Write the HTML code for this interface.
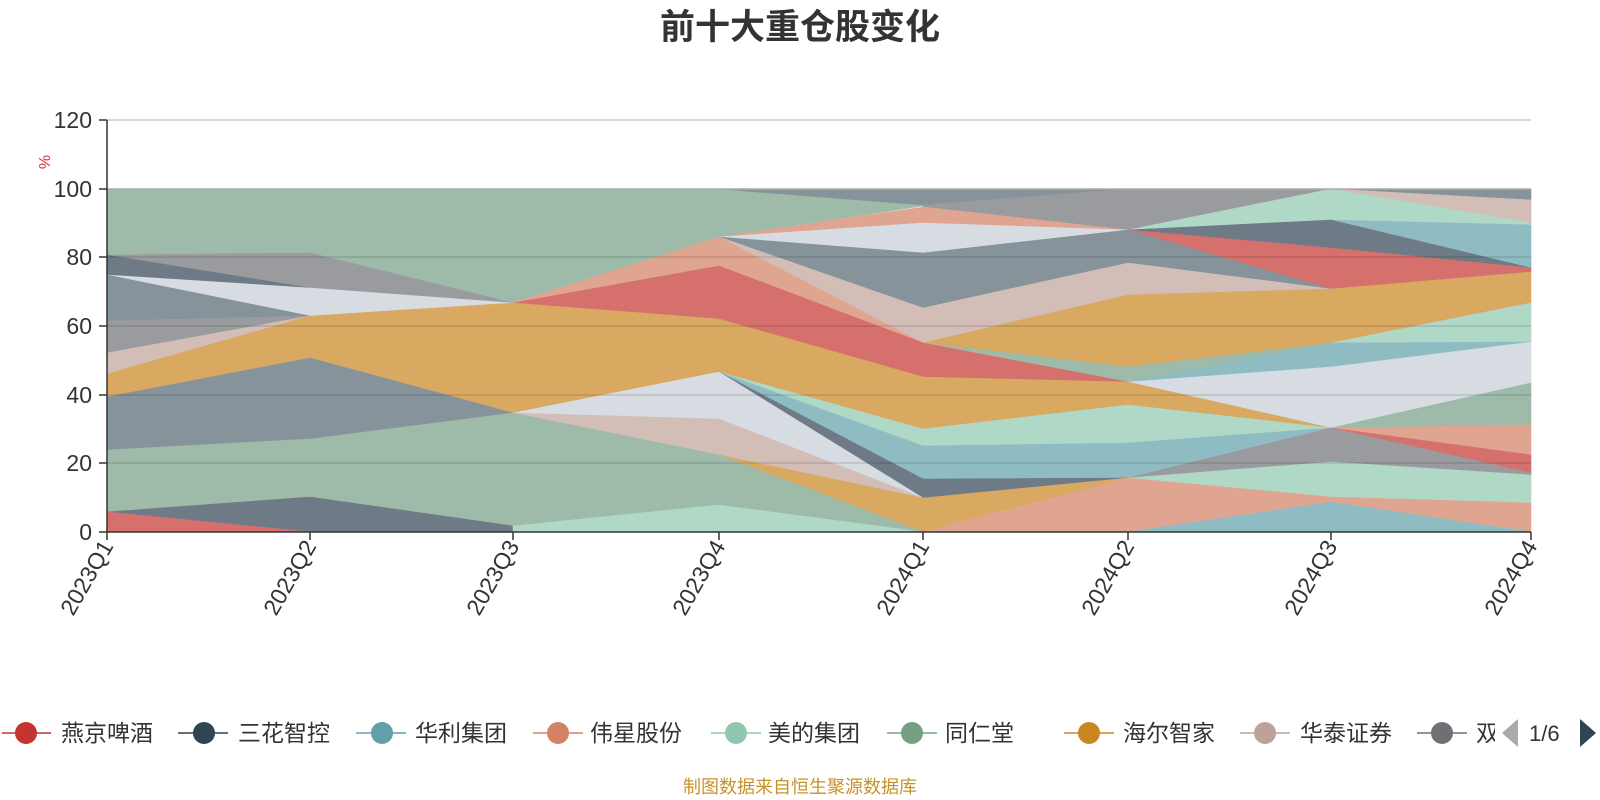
<!DOCTYPE html>
<html><head><meta charset="utf-8"><style>
body{margin:0;background:#fff;}
svg{display:block;font-family:"Liberation Sans","Noto Sans CJK SC",sans-serif;}
</style></head><body>
<svg width="1600" height="800" viewBox="0 0 1600 800" xmlns="http://www.w3.org/2000/svg">
<text x="800" y="39" text-anchor="middle" font-size="35" font-weight="bold" fill="#333">前十大重仓股变化</text>
<g stroke-width="0.6" stroke-linejoin="round">
<polygon fill="#9dbba8" stroke="#9dbba8" points="107,189 310,189 310,253 107,255"/>
<polygon fill="#9a9b9e" stroke="#9a9b9e" points="107,255 310,253 310,288 107,255"/>
<polygon fill="#6e7b86" stroke="#6e7b86" points="107,255 310,288 310,288 107,275"/>
<polygon fill="#d7dce2" stroke="#d7dce2" points="107,275 310,288 310,316 107,275"/>
<polygon fill="#86939a" stroke="#86939a" points="107,275 310,316 310,316 107,321"/>
<polygon fill="#9a9b9e" stroke="#9a9b9e" points="107,321 310,316 310,316 107,353"/>
<polygon fill="#d3bdb7" stroke="#d3bdb7" points="107,353 310,316 310,316 107,374"/>
<polygon fill="#d9a962" stroke="#d9a962" points="107,374 310,316 310,358 107,397"/>
<polygon fill="#86939a" stroke="#86939a" points="107,397 310,358 310,439 107,450"/>
<polygon fill="#9dbba8" stroke="#9dbba8" points="107,450 310,439 310,497 107,512"/>
<polygon fill="#6e7b86" stroke="#6e7b86" points="107,512 310,497 310,532 107,532"/>
<polygon fill="#d5706c" stroke="#d5706c" points="107,512 310,532 107,532"/>
<polygon fill="#9dbba8" stroke="#9dbba8" points="310,189 513,189 513,303 310,253"/>
<polygon fill="#9a9b9e" stroke="#9a9b9e" points="310,253 513,303 310,288"/>
<polygon fill="#d7dce2" stroke="#d7dce2" points="310,288 513,303 310,316"/>
<polygon fill="#d9a962" stroke="#d9a962" points="310,316 513,303 513,413 310,358"/>
<polygon fill="#86939a" stroke="#86939a" points="310,358 513,413 310,439"/>
<polygon fill="#9dbba8" stroke="#9dbba8" points="310,439 513,413 513,526 310,497"/>
<polygon fill="#6e7b86" stroke="#6e7b86" points="310,497 513,526 513,532 310,532"/>
<polygon fill="#9dbba8" stroke="#9dbba8" points="513,189 719,189 719,237 513,303"/>
<polygon fill="#e0a590" stroke="#e0a590" points="513,303 719,237 719,266"/>
<polygon fill="#d5706c" stroke="#d5706c" points="513,303 719,266 719,319"/>
<polygon fill="#d9a962" stroke="#d9a962" points="513,303 719,319 719,372 513,413"/>
<polygon fill="#d7dce2" stroke="#d7dce2" points="513,413 719,372 719,419"/>
<polygon fill="#d3bdb7" stroke="#d3bdb7" points="513,413 719,419 719,455"/>
<polygon fill="#9dbba8" stroke="#9dbba8" points="513,413 719,455 719,505 513,526"/>
<polygon fill="#b0d8c6" stroke="#b0d8c6" points="513,526 719,505 719,532 513,532"/>
<polygon fill="#9dbba8" stroke="#9dbba8" points="719,189 719,237 923,206 923,205"/>
<polygon fill="#86939a" stroke="#86939a" points="719,189 923,189 923,205"/>
<polygon fill="#e0a590" stroke="#e0a590" points="719,237 923,207 923,223"/>
<polygon fill="#d7dce2" stroke="#d7dce2" points="719,237 923,223 923,253"/>
<polygon fill="#86939a" stroke="#86939a" points="719,237 923,253 923,308"/>
<polygon fill="#d3bdb7" stroke="#d3bdb7" points="719,237 923,308 923,343"/>
<polygon fill="#e0a590" stroke="#e0a590" points="719,237 923,343 719,266"/>
<polygon fill="#d5706c" stroke="#d5706c" points="719,266 923,343 923,377 719,319"/>
<polygon fill="#d9a962" stroke="#d9a962" points="719,319 923,377 923,429 719,372"/>
<polygon fill="#b0d8c6" stroke="#b0d8c6" points="719,372 923,429 923,446"/>
<polygon fill="#8fbcc3" stroke="#8fbcc3" points="719,372 923,446 923,479"/>
<polygon fill="#6e7b86" stroke="#6e7b86" points="719,372 923,479 923,498"/>
<polygon fill="#d7dce2" stroke="#d7dce2" points="719,372 923,498 719,419"/>
<polygon fill="#d3bdb7" stroke="#d3bdb7" points="719,419 923,498 719,455"/>
<polygon fill="#d9a962" stroke="#d9a962" points="719,455 923,498 923,532"/>
<polygon fill="#9dbba8" stroke="#9dbba8" points="719,455 923,532 719,505"/>
<polygon fill="#b0d8c6" stroke="#b0d8c6" points="719,505 923,532 719,532"/>
<polygon fill="#86939a" stroke="#86939a" points="923,189 1128,189 923,205"/>
<polygon fill="#9a9b9e" stroke="#9a9b9e" points="923,205 1128,189 1128,230 923,207"/>
<polygon fill="#e0a590" stroke="#e0a590" points="923,207 1128,230 923,223"/>
<polygon fill="#d7dce2" stroke="#d7dce2" points="923,223 1128,230 923,253"/>
<polygon fill="#86939a" stroke="#86939a" points="923,253 1128,230 1128,263 923,308"/>
<polygon fill="#d3bdb7" stroke="#d3bdb7" points="923,308 1128,263 1128,295 923,343"/>
<polygon fill="#d9a962" stroke="#d9a962" points="923,343 1128,295 1128,367"/>
<polygon fill="#9dbba8" stroke="#9dbba8" points="923,343 1128,367 1128,382"/>
<polygon fill="#d5706c" stroke="#d5706c" points="923,343 1128,382 923,377"/>
<polygon fill="#d9a962" stroke="#d9a962" points="923,377 1128,382 1128,405 923,429"/>
<polygon fill="#b0d8c6" stroke="#b0d8c6" points="923,429 1128,405 1128,443 923,446"/>
<polygon fill="#8fbcc3" stroke="#8fbcc3" points="923,446 1128,443 1128,478 923,479"/>
<polygon fill="#6e7b86" stroke="#6e7b86" points="923,479 1128,478 923,498"/>
<polygon fill="#d9a962" stroke="#d9a962" points="923,498 1128,478 923,532"/>
<polygon fill="#e0a590" stroke="#e0a590" points="923,532 1128,478 1128,532"/>
<polygon fill="#9a9b9e" stroke="#9a9b9e" points="1128,189 1331,189 1128,230"/>
<polygon fill="#b0d8c6" stroke="#b0d8c6" points="1128,230 1331,189 1331,220"/>
<polygon fill="#6e7b86" stroke="#6e7b86" points="1128,230 1331,220 1331,248"/>
<polygon fill="#d5706c" stroke="#d5706c" points="1128,230 1331,248 1331,289"/>
<polygon fill="#86939a" stroke="#86939a" points="1128,230 1331,289 1128,263"/>
<polygon fill="#d3bdb7" stroke="#d3bdb7" points="1128,263 1331,289 1128,295"/>
<polygon fill="#d9a962" stroke="#d9a962" points="1128,295 1331,289 1331,343 1128,367"/>
<polygon fill="#9dbba8" stroke="#9dbba8" points="1128,367 1331,343 1128,382"/>
<polygon fill="#8fbcc3" stroke="#8fbcc3" points="1128,382 1331,343 1331,367"/>
<polygon fill="#d7dce2" stroke="#d7dce2" points="1128,382 1331,367 1331,428"/>
<polygon fill="#d9a962" stroke="#d9a962" points="1128,382 1331,428 1128,405"/>
<polygon fill="#b0d8c6" stroke="#b0d8c6" points="1128,405 1331,428 1128,443"/>
<polygon fill="#8fbcc3" stroke="#8fbcc3" points="1128,443 1331,428 1128,478"/>
<polygon fill="#9a9b9e" stroke="#9a9b9e" points="1128,478 1331,428 1331,462"/>
<polygon fill="#b0d8c6" stroke="#b0d8c6" points="1128,478 1331,462 1331,497"/>
<polygon fill="#e0a590" stroke="#e0a590" points="1128,478 1331,497 1331,502 1128,532"/>
<polygon fill="#8fbcc3" stroke="#8fbcc3" points="1128,532 1331,502 1331,532"/>
<polygon fill="#86939a" stroke="#86939a" points="1331,189 1531,189 1531,200"/>
<polygon fill="#d3bdb7" stroke="#d3bdb7" points="1331,189 1531,200 1531,223"/>
<polygon fill="#b0d8c6" stroke="#b0d8c6" points="1331,189 1531,223 1531,225 1331,220"/>
<polygon fill="#8fbcc3" stroke="#8fbcc3" points="1331,220 1531,225 1531,268"/>
<polygon fill="#6e7b86" stroke="#6e7b86" points="1331,220 1531,268 1331,248"/>
<polygon fill="#d5706c" stroke="#d5706c" points="1331,248 1531,268 1531,272 1331,289"/>
<polygon fill="#d9a962" stroke="#d9a962" points="1331,289 1531,272 1531,303 1331,343"/>
<polygon fill="#b0d8c6" stroke="#b0d8c6" points="1331,343 1531,303 1531,342"/>
<polygon fill="#8fbcc3" stroke="#8fbcc3" points="1331,343 1531,342 1331,367"/>
<polygon fill="#d7dce2" stroke="#d7dce2" points="1331,367 1531,342 1531,383 1331,428"/>
<polygon fill="#9dbba8" stroke="#9dbba8" points="1331,428 1531,383 1531,425"/>
<polygon fill="#e0a590" stroke="#e0a590" points="1331,428 1531,425 1531,455"/>
<polygon fill="#d5706c" stroke="#d5706c" points="1331,428 1531,455 1531,473"/>
<polygon fill="#9a9b9e" stroke="#9a9b9e" points="1331,428 1531,473 1531,475 1331,462"/>
<polygon fill="#b0d8c6" stroke="#b0d8c6" points="1331,462 1531,475 1531,503 1331,497"/>
<polygon fill="#e0a590" stroke="#e0a590" points="1331,497 1531,503 1531,532 1331,502"/>
<polygon fill="#8fbcc3" stroke="#8fbcc3" points="1331,502 1531,532 1331,532"/>
</g>
<g stroke="rgba(0,0,0,0.13)" stroke-width="1.5">
<line x1="107" y1="257" x2="1531" y2="257"/>
<line x1="107" y1="326" x2="1531" y2="326"/>
<line x1="107" y1="395" x2="1531" y2="395"/>
<line x1="107" y1="463" x2="1531" y2="463"/>
</g>
<line x1="107" y1="189" x2="1531" y2="189" stroke="#aaa" stroke-width="1.5"/>
<line x1="107" y1="120" x2="1531" y2="120" stroke="#ccc" stroke-width="1.5"/>
<g stroke="#333" stroke-width="1.5">
<line x1="107" y1="120" x2="107" y2="532"/>
<line x1="107" y1="532" x2="1531" y2="532"/>
<line x1="99" y1="120" x2="107" y2="120"/><line x1="99" y1="189" x2="107" y2="189"/>
<line x1="99" y1="257" x2="107" y2="257"/><line x1="99" y1="326" x2="107" y2="326"/>
<line x1="99" y1="395" x2="107" y2="395"/><line x1="99" y1="463" x2="107" y2="463"/>
<line x1="99" y1="532" x2="107" y2="532"/>
<line x1="107" y1="532" x2="107" y2="540"/><line x1="310" y1="532" x2="310" y2="540"/>
<line x1="513" y1="532" x2="513" y2="540"/><line x1="719" y1="532" x2="719" y2="540"/>
<line x1="923" y1="532" x2="923" y2="540"/><line x1="1128" y1="532" x2="1128" y2="540"/>
<line x1="1331" y1="532" x2="1331" y2="540"/><line x1="1531" y1="532" x2="1531" y2="540"/>
</g>
<g font-size="23" fill="#333" text-anchor="end">
<text x="92" y="128">120</text><text x="92" y="197">100</text><text x="92" y="265">80</text>
<text x="92" y="334">60</text><text x="92" y="403">40</text><text x="92" y="471">20</text><text x="92" y="540">0</text>
</g>
<text x="0" y="0" font-size="16" fill="#e03030" transform="translate(50,162) rotate(-90)" text-anchor="middle">%</text>
<g font-size="23" fill="#333" text-anchor="end">
<text transform="translate(114,546) rotate(-60)">2023Q1</text>
<text transform="translate(317,546) rotate(-60)">2023Q2</text>
<text transform="translate(520,546) rotate(-60)">2023Q3</text>
<text transform="translate(726,546) rotate(-60)">2023Q4</text>
<text transform="translate(930,546) rotate(-60)">2024Q1</text>
<text transform="translate(1135,546) rotate(-60)">2024Q2</text>
<text transform="translate(1338,546) rotate(-60)">2024Q3</text>
<text transform="translate(1538,546) rotate(-60)">2024Q4</text>
</g>
<g font-size="23" fill="#333" stroke-width="1.5">
<line x1="2" y1="733" x2="51" y2="733" stroke="#c23531"/><circle cx="26" cy="733" r="11" fill="#c23531"/><text x="61" y="741">燕京啤酒</text>
<line x1="178" y1="733" x2="228" y2="733" stroke="#2f4554"/><circle cx="204" cy="733" r="11" fill="#2f4554"/><text x="238" y="741">三花智控</text>
<line x1="356" y1="733" x2="406" y2="733" stroke="#61a0a8"/><circle cx="382" cy="733" r="11" fill="#61a0a8"/><text x="415" y="741">华利集团</text>
<line x1="533" y1="733" x2="583" y2="733" stroke="#d48265"/><circle cx="558" cy="733" r="11" fill="#d48265"/><text x="590" y="741">伟星股份</text>
<line x1="711" y1="733" x2="761" y2="733" stroke="#91c7ae"/><circle cx="736" cy="733" r="11" fill="#91c7ae"/><text x="768" y="741">美的集团</text>
<line x1="887" y1="733" x2="937" y2="733" stroke="#749f83"/><circle cx="912" cy="733" r="11" fill="#749f83"/><text x="945" y="741">同仁堂</text>
<line x1="1064" y1="733" x2="1114" y2="733" stroke="#ca8622"/><circle cx="1089" cy="733" r="11" fill="#ca8622"/><text x="1123" y="741">海尔智家</text>
<line x1="1240" y1="733" x2="1290" y2="733" stroke="#bda29a"/><circle cx="1265" cy="733" r="11" fill="#bda29a"/><text x="1300" y="741">华泰证券</text>
<line x1="1417" y1="733" x2="1467" y2="733" stroke="#6e7074"/><circle cx="1442" cy="733" r="11" fill="#6e7074"/>
<svg x="1470" y="715" width="25" height="40" overflow="hidden"><text x="6" y="26" font-size="23" fill="#333">双玉</text></svg>
<polygon points="1518,719 1518,747 1502,733" fill="#aaa"/>
<text x="1529" y="741" font-size="22">1/6</text>
<polygon points="1580,719 1580,747 1596,733" fill="#2f4554"/>
</g>
<text x="800" y="793" text-anchor="middle" font-size="18" fill="#c8922b">制图数据来自恒生聚源数据库</text>
</svg>
</body></html>
